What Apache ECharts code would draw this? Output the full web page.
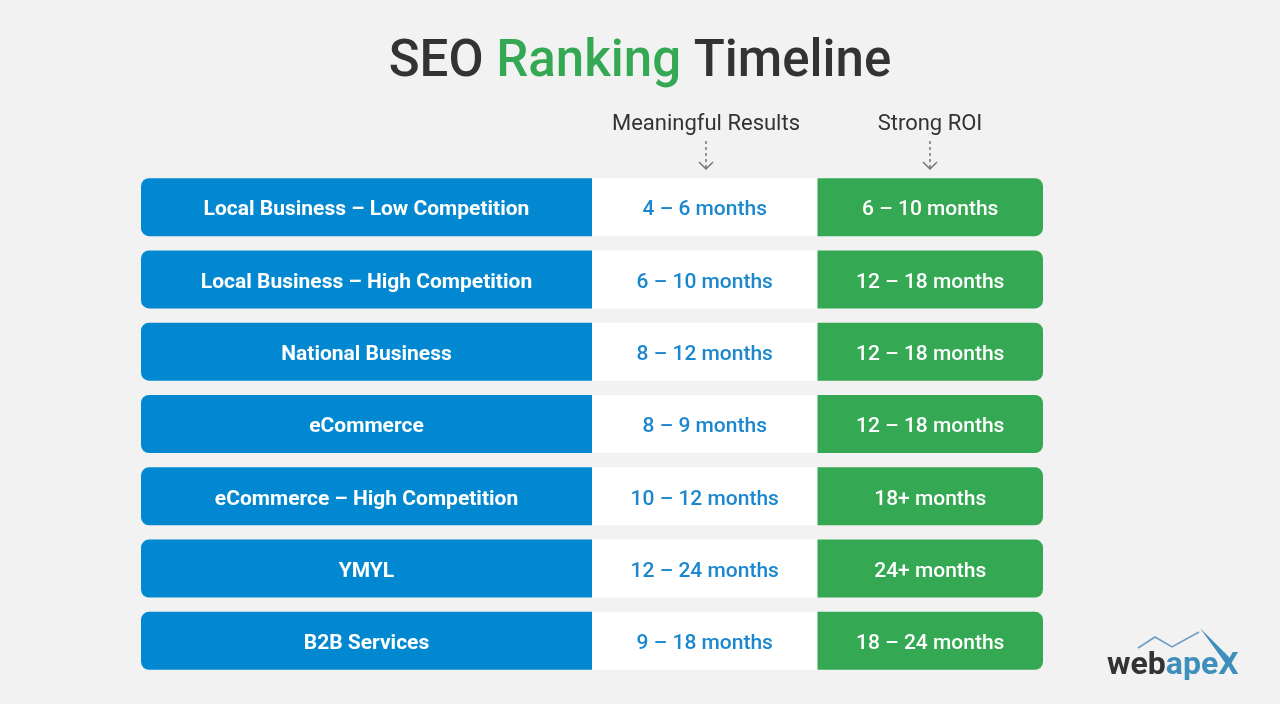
<!DOCTYPE html>
<html><head><meta charset="utf-8">
<script src="https://cdn.jsdelivr.net/npm/echarts@6/dist/echarts.min.js"></script>
<style>html,body{margin:0;background:#f2f2f2}#c{width:1280px;height:704px}</style></head>
<body><div id="c"></div>
<script>
var categories = ['Local Business – Low Competition','Local Business – High Competition','National Business','eCommerce','eCommerce – High Competition','YMYL','B2B Services'];
var meaningfulResults = ['4 – 6 months','6 – 10 months','8 – 12 months','8 – 9 months','10 – 12 months','12 – 24 months','9 – 18 months'];
var strongROI = ['6 – 10 months','12 – 18 months','12 – 18 months','12 – 18 months','18+ months','24+ months','18 – 24 months'];
var columnHeaders = ['Meaningful Results','Strong ROI'];

var FONT = 'Roboto, "Noto Sans", sans-serif';
var cols = [
  {x0:0,x1:2,fill:'#0288d1',color:'#fff',weight:'bold',r:[8,0,0,8],texts:categories},
  {x0:2,x1:3,fill:'#ffffff',color:'#1a87cf',weight:500,r:0,texts:meaningfulResults},
  {x0:3,x1:4,fill:'#34a853',color:'#fff',weight:500,r:[0,8,8,0],texts:strongROI}
];
var data = [];
categories.forEach(function(c,i){ cols.forEach(function(col,j){ data.push([i,j]); }); });

var chart = echarts.init(document.getElementById('c'));
chart.setOption({
  backgroundColor:'#f2f2f2',
  animation:false,
  grid:{left:141,right:237,top:171,bottom:27},
  xAxis:{type:'value',min:0,max:4,show:false},
  yAxis:{type:'category',data:categories,inverse:true,show:false},
  series:[{
    type:'custom',
    data:data,
    renderItem:function(params,api){
      var row=api.value(0), col=cols[api.value(1)];
      var p0=api.coord([col.x0,row]), p1=api.coord([col.x1,row]);
      var h=58;
      return {type:'rect',shape:{x:p0[0],y:p0[1]-h/2,width:p1[0]-p0[0],height:h,r:col.r},
        style:{fill:col.fill},
        textContent:{style:{text:col.texts[row],fill:col.color,fontSize:21,fontWeight:col.weight,fontFamily:FONT}},
        textConfig:{position:'inside',offset:[0,3]}};
    }
  }],
  graphic:[
    {type:'text',left:'center',top:38,style:{rich:{a:{fill:'#333',fontSize:51,fontWeight:500,fontFamily:FONT},b:{fill:'#34a853',fontSize:51,fontWeight:500,fontFamily:FONT}},text:'{a|SEO }{b|Ranking}{a| Timeline}'}},
    {type:'text',x:706,y:124,style:{text:columnHeaders[0],fill:'#333',fontSize:22,fontFamily:FONT,align:'center',verticalAlign:'middle'}},
    {type:'text',x:930,y:124,style:{text:columnHeaders[1],fill:'#333',fontSize:22,fontFamily:FONT,align:'center',verticalAlign:'middle'}},
    {type:'line',shape:{x1:706,y1:141,x2:706,y2:168},style:{stroke:'#777',lineWidth:1.5,lineDash:[3,3]}},
    {type:'polyline',shape:{points:[[699,162],[706,169],[713,162]]},style:{stroke:'#777',lineWidth:1.5,fill:null}},
    {type:'line',shape:{x1:930,y1:141,x2:930,y2:168},style:{stroke:'#777',lineWidth:1.5,lineDash:[3,3]}},
    {type:'polyline',shape:{points:[[923,162],[930,169],[937,162]]},style:{stroke:'#777',lineWidth:1.5,fill:null}},
    {type:'polyline',shape:{points:[[1138,648],[1155,637],[1172,647],[1199,632]]},style:{stroke:'#6a9cc4',lineWidth:1.5,fill:null}},
    {type:'polygon',shape:{points:[[1200,628],[1232,660],[1226,664]]},style:{fill:'#3f8fbd'}},
    {type:'text',x:1107,y:666,style:{rich:{a:{fill:'#333',fontSize:32,fontWeight:'bold',fontFamily:FONT},b:{fill:'#3f8fbd',fontSize:32,fontWeight:'bold',fontFamily:FONT}},text:'{a|web}{b|apeX}',verticalAlign:'middle'}}
  ]
});
</script></body></html>
